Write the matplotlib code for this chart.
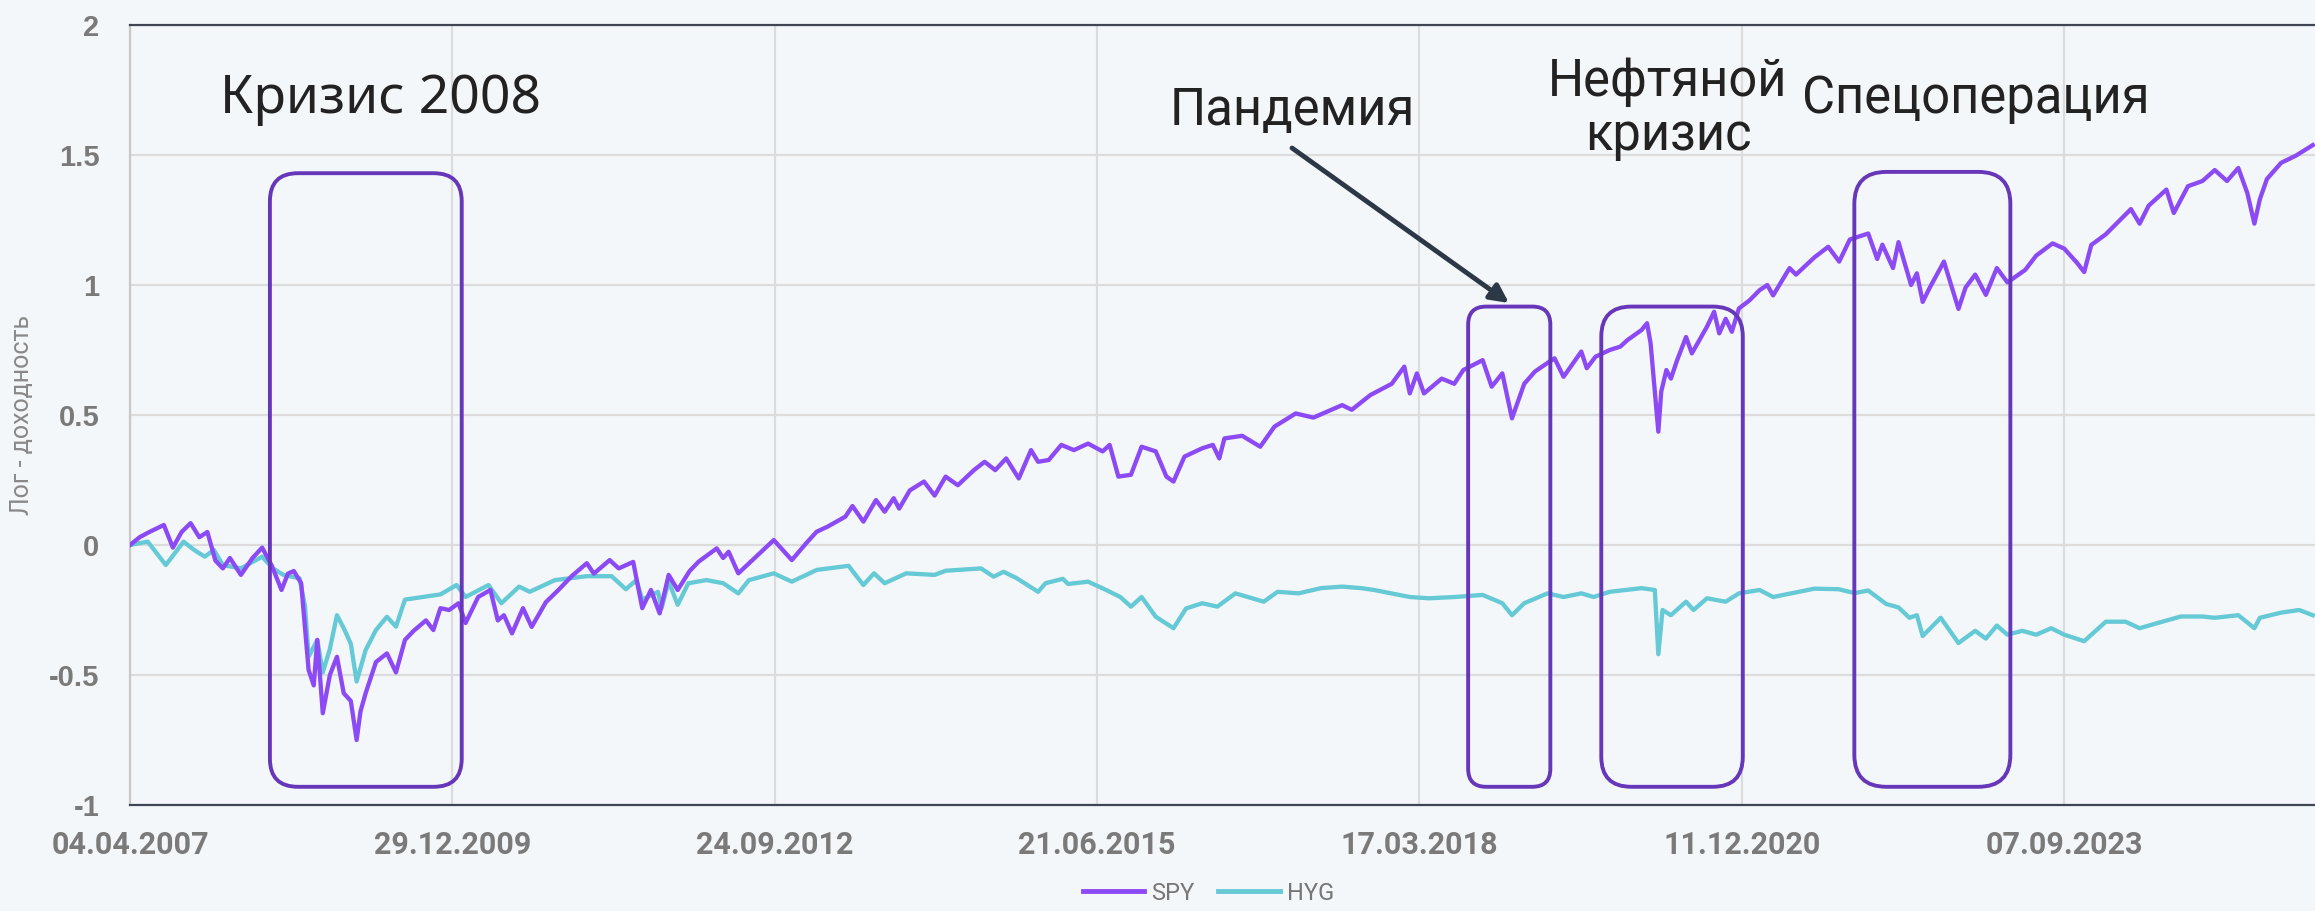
import numpy as np
import matplotlib
matplotlib.use("Agg")
from matplotlib import pyplot as plt
from matplotlib import dates as mdates
from matplotlib.patches import FancyBboxPatch

# Start of both series; positions below are days after this date.
START = np.datetime64("2007-04-04")

spy_days = [0, 30, 60, 105, 133, 160, 188, 215, 240, 265, 288, 310, 344, 380, 410, 440, 470, 490,
            508, 531, 554, 570, 581, 598, 620, 642, 663, 685, 703, 715, 731, 763, 797, 825, 853,
            880, 918, 941, 963, 990, 1019, 1041, 1080, 1118, 1141, 1160, 1185, 1219, 1246, 1290,
            1329, 1370, 1417, 1439, 1488, 1516, 1561, 1589, 1616, 1643, 1671, 1699, 1736, 1764,
            1820, 1840, 1857, 1887, 1953, 1997, 2053, 2097, 2130, 2163, 2219, 2241, 2275, 2314,
            2341, 2369, 2386, 2419, 2463, 2496, 2530, 2568, 2618, 2651, 2684, 2718, 2757, 2795,
            2817, 2850, 2889, 2928, 2972, 3017, 3039, 3066, 3105, 3138, 3182, 3215, 3237, 3271,
            3326, 3359, 3379, 3395, 3450, 3506, 3550, 3616, 3671, 3760, 3790, 3848, 3914, 3953,
            3970, 3992, 4014, 4069, 4108, 4136, 4196, 4224, 4257, 4287, 4325, 4358, 4397, 4419,
            4447, 4502, 4519, 4546, 4590, 4623, 4645, 4689, 4706, 4717, 4728, 4741, 4750, 4766,
            4780, 4799, 4827, 4845, 4892, 4914, 4930, 4950, 4969, 4991, 5023, 5055, 5079, 5097,
            5148, 5168, 5225, 5268, 5302, 5335, 5392, 5420, 5436, 5469, 5486, 5525, 5543, 5561,
            5583, 5627, 5672, 5694, 5724, 5757, 5791, 5824, 5879, 5913, 5964, 6000, 6040, 6062,
            6084, 6129, 6162, 6207, 6234, 6262, 6317, 6340, 6384, 6429, 6467, 6505, 6540, 6568,
            6590, 6607, 6629, 6673, 6718, 6771]
spy_vals = [0.0, 0.03, 0.05, 0.077, -0.01, 0.05, 0.084, 0.03, 0.05, -0.06, -0.09, -0.05, -0.115,
            -0.05, -0.01, -0.08, -0.173, -0.11, -0.1, -0.147, -0.48, -0.54, -0.365, -0.647, -0.5,
            -0.43, -0.57, -0.6, -0.75, -0.64, -0.57, -0.45, -0.417, -0.49, -0.365, -0.33, -0.29,
            -0.327, -0.243, -0.25, -0.224, -0.3, -0.2, -0.173, -0.29, -0.27, -0.34, -0.243,
            -0.315, -0.22, -0.173, -0.12, -0.07, -0.11, -0.058, -0.09, -0.065, -0.243, -0.173,
            -0.263, -0.115, -0.173, -0.1, -0.064, -0.013, -0.05, -0.026, -0.109, -0.032, 0.019,
            -0.058, 0.006, 0.051, 0.07, 0.109, 0.15, 0.09, 0.173, 0.128, 0.18, 0.14, 0.21, 0.244,
            0.19, 0.263, 0.23, 0.288, 0.32, 0.288, 0.333, 0.256, 0.365, 0.32, 0.327, 0.385, 0.365,
            0.39, 0.36, 0.385, 0.263, 0.27, 0.378, 0.36, 0.263, 0.244, 0.34, 0.372, 0.385, 0.333,
            0.41, 0.42, 0.378, 0.455, 0.506, 0.49, 0.538, 0.52, 0.577, 0.62, 0.686, 0.583, 0.66,
            0.583, 0.64, 0.62, 0.673, 0.711, 0.609, 0.66, 0.487, 0.62, 0.667, 0.7, 0.718, 0.647,
            0.744, 0.68, 0.724, 0.75, 0.763, 0.788, 0.827, 0.853, 0.776, 0.62, 0.436, 0.59,
            0.673, 0.64, 0.71, 0.8, 0.737, 0.84, 0.897, 0.814, 0.87, 0.82, 0.91, 0.94, 0.98, 1.0,
            0.96, 1.065, 1.04, 1.106, 1.147, 1.09, 1.175, 1.198, 1.1, 1.155, 1.065, 1.165, 1.0,
            1.045, 0.935, 0.99, 1.09, 0.908, 0.99, 1.04, 0.962, 1.065, 1.01, 1.058, 1.113, 1.16,
            1.14, 1.085, 1.05, 1.154, 1.195, 1.236, 1.292, 1.236, 1.305, 1.367, 1.277, 1.38, 1.4,
            1.442, 1.4, 1.45, 1.354, 1.236, 1.33, 1.408, 1.47, 1.497, 1.538]

hyg_days = [0, 55, 111, 140, 166, 200, 232, 260, 288, 344, 410, 443, 476, 526, 543, 554, 581, 598,
            620, 642, 663, 685, 703, 731, 763, 797, 825, 853, 908, 963, 1013, 1041, 1112, 1152,
            1207, 1240, 1318, 1417, 1494, 1538, 1571, 1589, 1638, 1649, 1671, 1699, 1732, 1788,
            1840, 1887, 1920, 1997, 2053, 2130, 2229, 2275, 2308, 2341, 2408, 2496, 2530, 2640,
            2679, 2710, 2751, 2817, 2840, 2894, 2910, 2972, 3028, 3072, 3105, 3138, 3182, 3237,
            3276, 3326, 3373, 3429, 3517, 3560, 3625, 3694, 3760, 3820, 3859, 3970, 4030, 4110,
            4196, 4257, 4287, 4325, 4397, 4447, 4502, 4540, 4590, 4689, 4730, 4741, 4754, 4780,
            4827, 4850, 4892, 4950, 4991, 5055, 5097, 5225, 5300, 5350, 5392, 5448, 5486, 5520,
            5543, 5561, 5617, 5672, 5724, 5757, 5791, 5824, 5870, 5913, 5960, 6000, 6062, 6129,
            6190, 6234, 6290, 6362, 6429, 6467, 6540, 6590, 6607, 6673, 6729, 6771]
hyg_vals = [0.0, 0.013, -0.077, -0.03, 0.013, -0.02, -0.045, -0.019, -0.077, -0.09, -0.045, -0.09,
            -0.115, -0.128, -0.237, -0.43, -0.365, -0.49, -0.4, -0.27, -0.32, -0.38, -0.525,
            -0.404, -0.327, -0.276, -0.314, -0.21, -0.2, -0.19, -0.154, -0.2, -0.154, -0.224,
            -0.16, -0.18, -0.135, -0.12, -0.12, -0.17, -0.135, -0.21, -0.18, -0.243, -0.14, -0.23,
            -0.147, -0.135, -0.147, -0.186, -0.135, -0.109, -0.141, -0.096, -0.08, -0.154, -0.109,
            -0.147, -0.109, -0.115, -0.099, -0.09, -0.122, -0.103, -0.128, -0.18, -0.147, -0.13,
            -0.15, -0.141, -0.173, -0.2, -0.237, -0.2, -0.276, -0.32, -0.244, -0.224, -0.237,
            -0.186, -0.218, -0.18, -0.186, -0.166, -0.16, -0.166, -0.173, -0.2, -0.205, -0.2,
            -0.192, -0.224, -0.27, -0.224, -0.186, -0.2, -0.186, -0.2, -0.18, -0.166, -0.173,
            -0.42, -0.25, -0.27, -0.218, -0.25, -0.205, -0.218, -0.186, -0.173, -0.2, -0.168,
            -0.17, -0.185, -0.175, -0.227, -0.24, -0.28, -0.27, -0.35, -0.28, -0.377, -0.33,
            -0.36, -0.31, -0.345, -0.33, -0.345, -0.32, -0.345, -0.37, -0.295, -0.295, -0.32,
            -0.3, -0.275, -0.275, -0.28, -0.27, -0.32, -0.28, -0.26, -0.25, -0.27]

# Highlighted periods: (first day, last day, top value)
boxes = [(434, 1029, 1.43), (4151, 4406, 0.917), (4564, 5003, 0.917), (5349, 5833, 1.435)]
box_bottom = -0.93

SPY_COLOR = "#8c4af5"
HYG_COLOR = "#66c9d6"
BOX_COLOR = "#6637b9"
BG = "#f4f7fa"

fig = plt.figure(figsize=(23.15, 9.11), dpi=100, facecolor=BG)
ax = fig.add_axes([130 / 2315, 1 - 805 / 911, 1 - 130 / 2315, (805 - 25) / 911])
ax.set_facecolor(BG)

spy_x = START + np.array(spy_days, dtype="timedelta64[D]")
hyg_x = START + np.array(hyg_days, dtype="timedelta64[D]")
ax.plot(spy_x, spy_vals, color=SPY_COLOR, lw=3.1, solid_joinstyle="round", label="SPY", zorder=3)
ax.plot(hyg_x, hyg_vals, color=HYG_COLOR, lw=3.1, solid_joinstyle="round", label="HYG", zorder=2)

x0 = mdates.date2num(START)
ax.set_xlim(x0, x0 + 6778)
ax.set_ylim(-1, 2)

ax.set_xticks(x0 + np.arange(0, 7000, 1000))
ax.xaxis.set_major_formatter(mdates.DateFormatter("%d.%m.%Y"))
ax.set_yticks([-1, -0.5, 0, 0.5, 1, 1.5, 2])
ax.set_yticklabels(["-1", "-0.5", "0", "0.5", "1", "1.5", "2"])
ax.tick_params(axis="both", length=0, colors="#7a7a7a")
ax.tick_params(axis="y", pad=22)
ax.tick_params(axis="x", pad=18)
for lab in ax.get_xticklabels():
    lab.set_fontfamily(["Roboto", "DejaVu Sans"])
    lab.set_fontweight("bold")
    lab.set_fontsize(22)
for lab in ax.get_yticklabels():
    lab.set_fontfamily(["Liberation Sans", "DejaVu Sans"])
    lab.set_fontweight("bold")
    lab.set_fontsize(21)

ax.grid(True, color="#dcdcdc", lw=1.6)
ax.set_axisbelow(True)
for side in ["top", "bottom"]:
    ax.spines[side].set_color("#3e4654")
    ax.spines[side].set_linewidth(1.6)
ax.spines["left"].set_color("#c8c8c8")
ax.spines["left"].set_linewidth(1.6)
ax.spines["right"].set_visible(False)

fig.text(22 / 2315, 1 - 415 / 911, "Лог - доходность", rotation=90, ha="center", va="center",
         fontsize=18, color="#888888", family=["Roboto", "DejaVu Sans"])

# Rounded rectangles marking the crisis periods
xs = 6778 / 2185.0  # days per pixel
ys = 3.0 / 780.0  # value per pixel
for (d0, d1, top), r in zip(boxes, [28, 18, 30, 32]):
    patch = FancyBboxPatch((x0 + d0, box_bottom), d1 - d0, top - box_bottom,
                           boxstyle="round,pad=0,rounding_size=%f" % (r * xs),
                           mutation_aspect=ys / xs, fill=False, ec=BOX_COLOR, lw=2.8,
                           zorder=4, clip_on=False)
    ax.add_patch(patch)

ann_font = ["Roboto", "DejaVu Sans"]
fig.text(381 / 2315, 1 - 100 / 911, "Кризис 2008", ha="center", va="center", fontsize=38.5,
         color="#222222", family=["Noto Sans", "DejaVu Sans"])
fig.text(1292 / 2315, 1 - 111 / 911, "Пандемия", ha="center", va="center", fontsize=36.5,
         color="#222222", family=ann_font)
fig.text(1668 / 2315, 1 - 109 / 911, "Нефтяной\nкризис", ha="center", va="center", fontsize=36.5,
         color="#222222", family=ann_font, linespacing=1.12)
fig.text(1976 / 2315, 1 - 99 / 911, "Спецоперация", ha="center", va="center", fontsize=36.5,
         color="#222222", family=ann_font)

ax.annotate("", xy=(1509 / 2315, 1 - 303 / 911), xytext=(1292 / 2315, 1 - 148 / 911),
            xycoords="figure fraction", textcoords="figure fraction",
            arrowprops=dict(arrowstyle="-|>,head_length=1.1,head_width=0.55", color="#2d3846",
                            lw=3.5, shrinkA=0, shrinkB=0))

leg = fig.legend(loc="center", bbox_to_anchor=(0.522, 1 - 893 / 911), ncol=2, frameon=False,
                 handlelength=2.6, handletextpad=0.3, columnspacing=1.0,
                 prop={"family": ["Roboto", "DejaVu Sans"], "size": 17})
for text in leg.get_texts():
    text.set_color("#777777")
for line in leg.get_lines():
    line.set_linewidth(3.5)

fig.savefig("out.png", dpi=100, facecolor=BG)
